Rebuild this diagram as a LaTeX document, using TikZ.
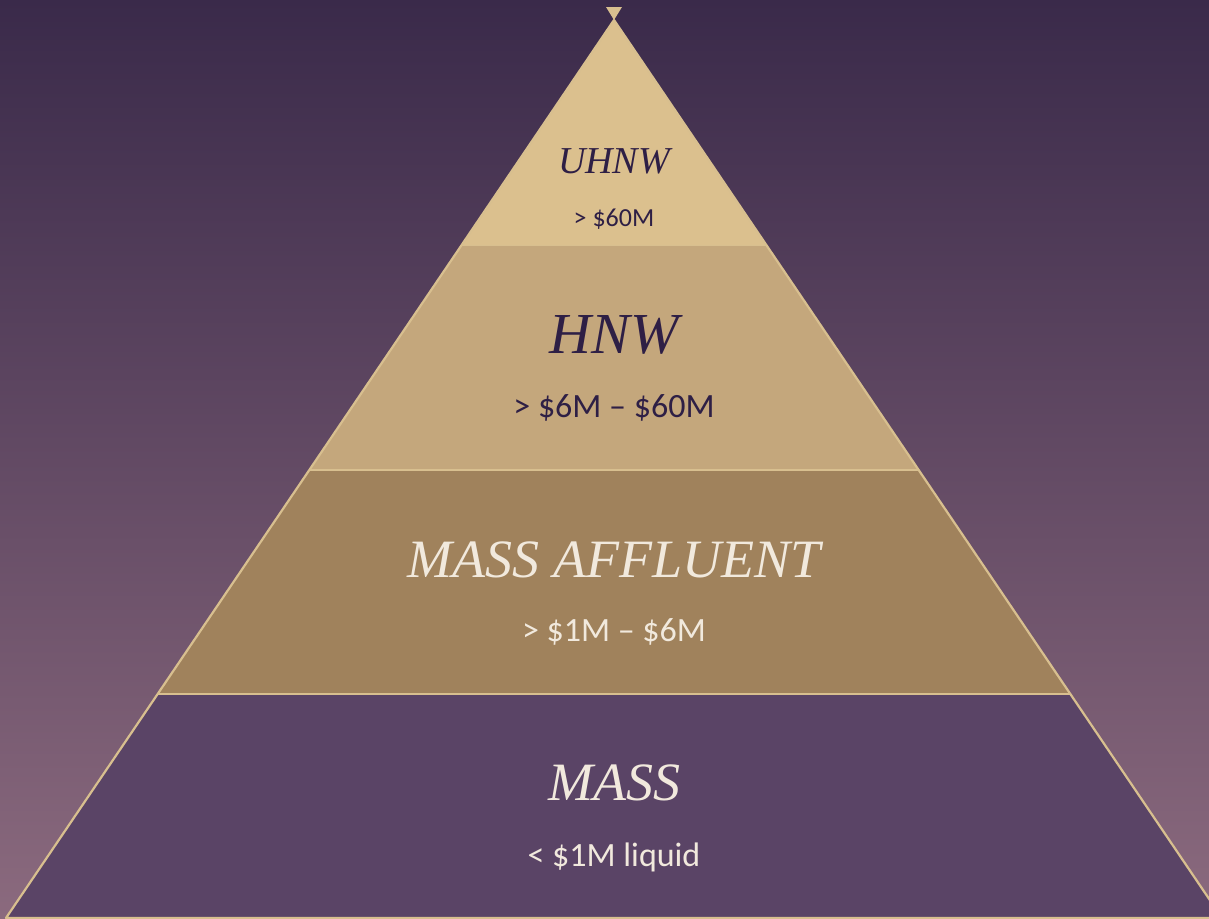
\documentclass[tikz,border=0pt]{standalone}
\usepackage{fontspec}
\setmainfont{Liberation Serif}
\newfontfamily\subfont{Carlito}
\definecolor{bgtop}{HTML}{3A2A4A}
\definecolor{bgmid}{HTML}{55405F}
\definecolor{bgbot}{HTML}{8B6A7E}
\definecolor{gold}{HTML}{D8BF8F}
\definecolor{cUH}{HTML}{DBC08E}
\definecolor{cHN}{HTML}{C4A77C}
\definecolor{cMA}{HTML}{A0825C}
\definecolor{cMS}{HTML}{5A4466}
\definecolor{darktxt}{HTML}{2E1F45}
\definecolor{lighttxt}{HTML}{F1E9DD}
\tikzset{
  band/.style={draw=gold, line width=2.2pt, line join=round},
  ttl/.style={font=\fontsize{#1}{#1}\selectfont\itshape, inner sep=0pt, anchor=center},
  sub/.style={font=\subfont\fontsize{#1}{#1}\selectfont, inner sep=0pt, anchor=center}
}
\begin{document}
\begin{tikzpicture}[x=1pt,y=-1pt]
\useasboundingbox (0,0) rectangle (1209,918);
\shade[top color=bgtop, middle color=bgmid, bottom color=bgbot] (0,0) rectangle (1209,918);
% coordinates of pyramid
\coordinate (apex) at (614,20);
\coordinate (l1) at (461.7,245); \coordinate (r1) at (766.3,245);
\coordinate (l2) at (309,470);   \coordinate (r2) at (919,470);
\coordinate (l3) at (158,694);   \coordinate (r3) at (1070,694);
\coordinate (l4) at (6,918);     \coordinate (r4) at (1222,918);
% bands
\fill[cMS] (l3) -- (r3) -- (r4) -- (l4) -- cycle;
\fill[cMA] (l2) -- (r2) -- (r3) -- (l3) -- cycle;
\fill[cHN] (l1) -- (r1) -- (r2) -- (l2) -- cycle;
\fill[cUH] (apex) -- (r1) -- (l1) -- cycle;
\draw[gold, line width=1pt] (l1) -- (r1);
\draw[gold, line width=1.2pt] (l2) -- (r2);
\draw[band] (l3) -- (r3);
\draw[band] (apex) -- (r4) -- (l4) -- cycle;
% apex marker
\fill[gold] (606,7) -- (622,7) -- (apex) -- cycle;
% texts
\node[ttl=38, text=darktxt] (t1) at (614,161) {UHNW};
\node[sub=26, text=darktxt] (s1) at (614,219) {> \$60M};
\node[ttl=58, text=darktxt] (t2) at (614,335) {HNW};
\node[sub=34, text=darktxt] (s2) at (614,408) {> \$6M – \$60M};
\node[ttl=54, text=lighttxt] (t3) at (614,560) {MASS AFFLUENT};
\node[sub=34, text=lighttxt] (s3) at (614,632) {> \$1M – \$6M};
\node[ttl=54, text=lighttxt] (t4) at (614,783) {MASS};
\node[sub=34, text=lighttxt] (s4) at (614,857) {< \$1M liquid};
\end{tikzpicture}
\end{document}
